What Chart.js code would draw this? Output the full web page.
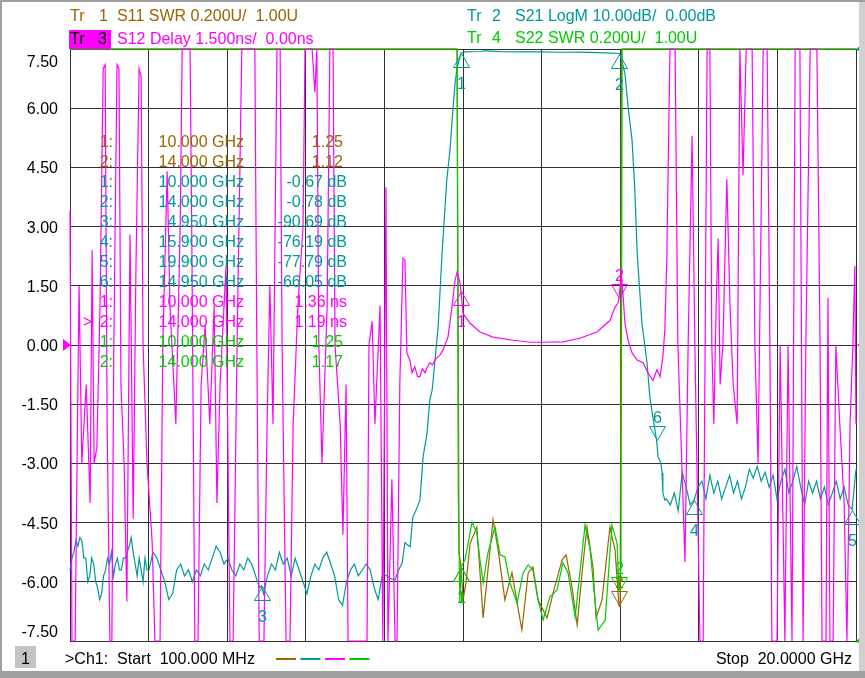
<!DOCTYPE html>
<html>
<head>
<meta charset="utf-8">
<script src="https://cdn.jsdelivr.net/npm/chart.js@4.4.0/dist/chart.umd.min.js"></script>
<style>
html, body { margin: 0; padding: 0; background: #fff; overflow: hidden; }
#wrap { width: 865px; height: 678px; position: relative; }
</style>
</head>
<body>
<div id="wrap"><canvas id="vna" width="865" height="678"></canvas></div>
<script>
// sweep and grid
var startGHz = 0.1, stopGHz = 20;
var xGrid = [0.1, 2.09, 4.08, 6.07, 8.06, 10.05, 12.04, 14.03, 16.02, 18.01, 20];
var yTicks = [7.5, 6, 4.5, 3, 1.5, 0, -1.5, -3, -4.5, -6, -7.5];
var yTickLabels = ['7.50', '6.00', '4.50', '3.00', '1.50', '0.00', '-1.50', '-3.00', '-4.50', '-6.00', '-7.50'];

// Tr 2  S21 LogM (dB)
var s21Freq = [0.1,0.15,0.2,0.25,0.3,0.35,0.4,0.45,0.5,0.55,0.6,0.65,0.7,0.75,0.8,0.85,0.9,0.95,1.0,1.05,
  1.1,1.15,1.2,1.25,1.3,1.35,1.4,1.45,1.5,1.55,1.6,1.65,1.7,1.75,1.8,1.85,1.9,1.95,2.0,2.05,
  2.1,2.2,2.3,2.4,2.5,2.6,2.7,2.8,2.9,3.0,3.1,3.2,3.3,3.4,3.5,3.6,3.7,3.8,3.9,4.0,
  4.1,4.2,4.3,4.4,4.5,4.6,4.7,4.8,4.9,4.95,5.0,5.1,5.2,5.3,5.4,5.5,5.6,5.7,5.8,5.9,6.0,
  6.1,6.2,6.3,6.4,6.5,6.6,6.7,6.8,6.9,7.0,7.1,7.2,7.3,7.4,7.5,7.6,7.7,7.8,7.9,8.02,
  8.2,8.33,8.4,8.51,8.58,8.71,8.78,8.83,8.96,9.04,9.14,9.21,9.27,9.42,9.52,9.64,9.72,9.8,9.85,9.9,9.97,
  10.0,10.1,10.5,10.6,11.0,11.5,12.0,12.5,13.0,13.5,13.8,13.95,14.0,
  14.03,14.15,14.23,14.33,14.4,14.46,14.58,14.71,14.78,14.83,14.95,14.99,15.06,15.09,15.11,15.16,
  15.2,15.3,15.4,15.5,15.6,15.7,15.8,15.9,16.0,16.1,16.2,16.3,16.4,16.5,16.6,16.7,16.8,16.9,17.0,
  17.1,17.2,17.3,17.4,17.5,17.6,17.7,17.8,17.9,18.0,18.1,18.2,18.3,18.4,18.5,18.6,18.7,18.8,18.9,19.0,
  19.1,19.2,19.3,19.4,19.5,19.6,19.7,19.8,19.9,20.0];
var s21dB = [-88,-86,-85,-83,-84,-82.5,-83,-86,-86,-90,-89,-86,-87,-90,-91,-93,-92,-89,-88,-86,
  -87,-85,-89,-87,-86,-88,-88,-86,-86,-85,-84,-82.5,-85,-87,-89,-86,-88,-90,-86,-88,
  -88,-85,-86,-88,-90,-93,-92,-88,-87,-89,-88,-90,-88,-89,-87,-88,-86,-84,-85,-87,
  -86,-88,-89,-87,-88,-86,-87,-89,-91,-90.69,-92,-89,-87,-88,-85,-87,-86,-89,-86,-88,-90,
  -92,-89,-87,-88,-86,-85,-87,-89,-93,-94,-90,-88,-87,-89,-88,-87,-88,-91,-93,-88.5,
  -89.4,-89.7,-88.3,-86.8,-83.4,-84.1,-79.1,-78.4,-76.2,-68.9,-64.9,-59.3,-57.6,-47,-34.5,-22.1,-17.1,-9.8,-5.7,-3.2,-1.4,
  -0.67,-0.5,-0.42,-0.3,-0.45,-0.5,-0.48,-0.55,-0.52,-0.6,-0.68,-0.72,-0.78,
  -1.0,-4.1,-9.8,-15.4,-23.8,-34.5,-46.3,-53,-58.8,-61,-66.05,-68.9,-69.9,-71.6,-75,-76.2,
  -76,-77,-75,-78,-71.5,-74,-77,-76.19,-74,-73,-76,-72,-75,-73,-76,-74,-72,-75,-73,
  -76,-74,-71,-72.5,-70.5,-73,-71.5,-74,-72,-76,-73,-71,-75,-73,-70.5,-74,-77,-73,-75,-73,
  -76,-74,-77,-75,-73,-76,-74,-77,-77.79,-71];

// Tr 3  S12 Delay (ns)
var s12Freq = [0.1,0.15,0.23,0.28,0.33,0.4,0.51,0.61,0.66,0.71,0.78,0.86,0.94,0.99,1.04,1.11,1.16,1.21,1.29,1.34,
  1.39,1.47,1.54,1.62,1.7,1.77,1.85,1.9,1.95,2.05,2.18,2.25,2.38,2.45,2.56,2.63,2.78,2.89,2.94,3.14,
  3.19,3.26,3.34,3.42,3.52,3.64,3.75,3.82,3.9,4.05,4.15,4.23,4.33,4.45,4.78,4.83,4.89,5.01,5.09,5.16,
  5.24,5.34,5.42,5.47,5.57,5.67,5.75,5.87,6.0,6.05,6.23,6.3,6.35,6.4,6.48,6.61,6.68,6.76,6.81,6.94,
  7.01,7.09,7.14,7.62,7.67,7.75,7.82,7.95,8.02,8.1,8.15,8.25,8.33,8.38,8.45,8.53,8.58,8.63,8.71,8.76,
  8.83,8.9,8.96,9.02,9.09,9.15,9.21,9.28,9.34,9.41,9.47,9.54,9.67,9.77,9.85,9.9,9.97,10.0,10.05,10.23,
  10.48,10.81,11.32,11.75,12.13,12.58,13.01,13.44,13.77,13.9,13.97,14.0,14.03,14.05,14.1,14.15,14.23,14.33,14.46,14.61,
  14.73,14.86,14.96,15.04,15.11,15.16,15.21,15.29,15.42,15.49,15.59,15.67,15.75,15.85,15.92,16.05,16.13,16.18,16.23,16.3,
  16.35,16.4,16.46,16.51,16.56,16.63,16.73,16.81,16.89,16.99,17.06,17.14,17.22,17.37,17.44,17.52,17.65,17.75,17.82,17.87,
  18.0,18.08,18.2,18.28,18.38,18.46,18.58,18.66,18.73,18.84,19.01,19.09,19.14,19.24,19.29,19.34,19.42,19.49,19.59,19.7,
  19.77,19.85,19.92,19.97,20.0];
var s12ns = [3.4,-9,-9,-2.8,1.5,-3,-1,-4,2.4,-3,-2.6,1,7.0,7.1,-2,-9,-9,0,7.1,7.0,
  -1,-3,-6.5,2.8,-4.4,2,7.0,6.8,0,-3,-5,-9,-9,0,4.4,1,-2,3,9,9,
  2,-9,-9,-1,0.5,-2,1,-4,-1,2,-9,-9,0,9,9,0,-9,-9,-2,1.5,
  -2,9,9,0,-9,-9,-2,1,3,9,9,6.4,9,0,-3,1,9,9,0,-2,
  -4.8,-1,-9,-9,0,0.6,-2,1,-9,4.0,-9,-3.4,-9,-9,-1,2.2,2.15,-0.2,-0.4,-0.7,
  -0.55,-0.8,-0.8,-0.6,-0.7,-0.55,-0.45,-0.5,-0.38,-0.3,-0.25,-0.13,0.2,0.96,1.65,1.85,1.6,1.36,0.8,0.55,
  0.33,0.2,0.12,0.07,0.07,0.08,0.17,0.33,0.62,0.96,1.05,1.19,1.5,1.82,1.3,0.55,0.12,-0.2,-0.38,-0.45,
  -0.7,-0.9,-0.63,-0.8,-0.3,0.38,2.2,9,9,0,-3,-5.5,0,5.3,0,-9,-9,0,9,9,
  0,-2,1,2.7,-1,0,4.2,1,-1,-2,9,4.3,9,9,0,-3,9,9,0,-9,
  -9,0,-9,0,-9,9,9,-9,0,9,9,0,-9,-9,1.2,-9,-9,0,-2,-4,
  -9,-2,0,2,-2];

// Tr 1  S11 SWR
var s11Freq = [0.1,9.9,9.95,10.0,10.05,10.13,10.23,10.4,10.56,10.81,10.94,11.11,11.29,11.54,11.7,11.82,11.95,
  12.18,12.33,12.56,12.66,12.81,12.94,13.09,13.19,13.34,13.42,13.57,13.77,13.9,14.0,14.03,14.06,20];
var s11Swr = [3.2,3.2,1.3,1.25,1.139,1.2,1.33,1.385,1.078,1.41,1.307,1.139,1.23,1.037,1.23,1.25,1.139,
  1.078,1.162,1.274,1.291,1.182,1.054,1.264,1.385,1.25,1.078,1.139,1.385,1.307,1.12,1.115,3.2,3.2];

// Tr 4  S22 SWR
var s22Freq = [0.1,9.9,9.93,9.97,10.0,10.1,10.28,10.4,10.48,10.56,10.68,10.86,10.99,11.11,11.24,11.42,11.57,
  11.7,11.82,11.95,12.08,12.25,12.43,12.58,12.71,12.89,13.01,13.14,13.27,13.39,13.47,13.65,13.82,13.95,
  14.0,14.05,14.08,20];
var s22Swr = [3.2,3.2,1.5,1.128,1.25,1.274,1.402,1.365,1.274,1.196,1.297,1.385,1.291,1.284,1.196,1.128,1.23,
  1.257,1.24,1.139,1.071,1.149,1.172,1.264,1.23,1.081,1.23,1.392,1.307,1.139,1.037,1.071,1.392,1.331,
  1.17,1.25,3.2,3.2];

// markers
var s11MarkerFreq = [10, 14], s11MarkerVal = [1.25, 1.12], s11MarkerDown = [false, true];
var s21MarkerFreq = [10, 14, 4.95, 15.9, 19.9, 14.95];
var s21MarkerVal = [-0.67, -0.78, -90.69, -76.19, -77.79, -66.05];
var s21MarkerDown = [false, false, false, false, false, true];
var s12MarkerFreq = [10, 14], s12MarkerVal = [1.36, 1.19], s12MarkerDown = [false, true];
var s22MarkerFreq = [10, 14], s22MarkerVal = [1.25, 1.17], s22MarkerDown = [false, true];

var brown = '#996600', teal = '#009999', magenta = '#ff00ff', green = '#00cc00';
var font = '16px "Liberation Sans", Arial, sans-serif';

// every trace is put on the Tr 3 grid (1.5 per division, 0 at centre)
function dbToGrid(v){ return (v / 10 + 5) * 1.5; }
function swrToGrid(v){ return ((v - 1.0) / 0.2 - 5) * 1.5; }
function nsToGrid(v){ return v; }
function clip(g){ return Math.max(-7.5, Math.min(7.5, g)); }

function points(freqs, vals, conv){
  return freqs.map(function(f, i){ return {x: f, y: clip(conv(vals[i]))}; });
}

function drawMarkers(chart, freqs, vals, downs, conv, color){
  var ctx = chart.ctx, xs = chart.scales.x, ys = chart.scales.y;
  ctx.save();
  ctx.strokeStyle = color;
  ctx.fillStyle = color;
  ctx.lineWidth = 1;
  ctx.font = font;
  ctx.textAlign = 'center';
  for(var i in freqs){
    var px = Math.round(xs.getPixelForValue(freqs[i])) + 0.5;
    var py = Math.round(ys.getPixelForValue(clip(conv(vals[i])))) + 0.5;
    var d = downs[i] ? -1 : 1;
    ctx.beginPath();
    ctx.moveTo(px, py);
    ctx.lineTo(px - 8, py + 14 * d);
    ctx.lineTo(px + 8, py + 14 * d);
    ctx.closePath();
    ctx.stroke();
    var label = String(Number(i) + 1);
    ctx.fillText(label, px, downs[i] ? py - 18 : py + 35);
  }
  ctx.restore();
}

function tri(ctx, pts, color){
  ctx.fillStyle = color;
  ctx.beginPath();
  ctx.moveTo(pts[0], pts[1]);
  ctx.lineTo(pts[2], pts[3]);
  ctx.lineTo(pts[4], pts[5]);
  ctx.closePath();
  ctx.fill();
}

var vnaOverlay = {
  id: 'vnaOverlay',
  afterDatasetsDraw: function(chart){
    drawMarkers(chart, s11MarkerFreq, s11MarkerVal, s11MarkerDown, swrToGrid, brown);
    drawMarkers(chart, s22MarkerFreq, s22MarkerVal, s22MarkerDown, swrToGrid, green);
    drawMarkers(chart, s21MarkerFreq, s21MarkerVal, s21MarkerDown, dbToGrid, teal);
    drawMarkers(chart, s12MarkerFreq, s12MarkerVal, s12MarkerDown, nsToGrid, magenta);
  },
  afterDraw: function(chart){
    var ctx = chart.ctx, ys = chart.scales.y;
    ctx.save();
    ctx.font = font;
    ctx.textBaseline = 'alphabetic';

    // y labels
    ctx.fillStyle = '#000';
    ctx.textAlign = 'right';
    for(var i in yTicks){
      var y = ys.getPixelForValue(yTicks[i]);
      y = Math.max(60.5, Math.min(631, y));
      ctx.fillText(yTickLabels[i], 58, y + 6);
    }

    // trace headers
    ctx.textAlign = 'left';
    ctx.fillStyle = brown;
    ctx.fillText('Tr', 70, 21); ctx.fillText('1', 99, 21);
    ctx.fillText('S11 SWR 0.200U/  1.00U', 117, 21);
    ctx.fillStyle = magenta;
    ctx.fillRect(69, 30, 42, 19);
    ctx.fillStyle = '#000';
    ctx.fillText('Tr', 70, 44); ctx.fillText('3', 98, 44);
    ctx.fillStyle = magenta;
    ctx.fillText('S12 Delay 1.500ns/  0.00ns', 117, 44);
    ctx.fillStyle = teal;
    ctx.fillText('Tr', 467, 21); ctx.fillText('2', 492, 21);
    ctx.fillText('S21 LogM 10.00dB/  0.00dB', 515, 21);
    ctx.fillStyle = green;
    ctx.fillText('Tr', 467, 43); ctx.fillText('4', 492, 43);
    ctx.fillText('S22 SWR 0.200U/  1.00U', 515, 43);

    // marker table
    var rows = [];
    s11MarkerFreq.forEach(function(f, k){ rows.push([brown, k, f, s11MarkerVal[k].toFixed(2), 343]); });
    s21MarkerFreq.forEach(function(f, k){ rows.push([teal, k, f, s21MarkerVal[k].toFixed(2) + ' dB', 347]); });
    s12MarkerFreq.forEach(function(f, k){ rows.push([magenta, k, f, s12MarkerVal[k].toFixed(2) + ' ns', 347]); });
    s22MarkerFreq.forEach(function(f, k){ rows.push([green, k, f, s22MarkerVal[k].toFixed(2), 343]); });
    ctx.textAlign = 'right';
    rows.forEach(function(r, n){
      var by = 146.5 + 20 * n;
      ctx.fillStyle = r[0];
      ctx.fillText((r[1] + 1) + ':', 113, by);
      ctx.fillText(r[2].toFixed(3) + ' GHz', 244, by);
      ctx.fillText(r[3], r[4], by);
      if(n == 9){ ctx.fillText('>', 92, by); }
    });

    // reference position arrows
    tri(ctx, [63, 339, 63, 351, 71, 345], magenta);
    tri(ctx, [865, 339, 865, 351, 857, 345], magenta);
    tri(ctx, [865, 42, 865, 56, 856, 49], teal);
    tri(ctx, [865, 634, 865, 648, 856, 641], green);

    // channel bar
    ctx.fillStyle = '#c4c4c4';
    ctx.fillRect(15, 646, 21, 22);
    ctx.fillStyle = '#000';
    ctx.textAlign = 'center';
    ctx.fillText('1', 25.5, 664);
    ctx.textAlign = 'left';
    ctx.fillText('>Ch1:  Start  100.000 MHz', 65, 664);
    ctx.textAlign = 'right';
    ctx.fillText('Stop  20.0000 GHz', 852, 664);
    [brown, teal, magenta, green].forEach(function(c, k){
      ctx.fillStyle = c;
      ctx.fillRect(276 + 24.5 * k, 658, 20, 2);
    });

    // window frame
    ctx.fillStyle = '#a0a0a0';
    ctx.fillRect(0, 0, 865, 2);
    ctx.fillRect(0, 0, 2, 678);
    ctx.fillRect(0, 671, 865, 7);
    ctx.fillStyle = '#d0d0d0';
    ctx.fillRect(859, 2, 6, 669);
    ctx.restore();
  }
};

new Chart(document.getElementById('vna'), {
  type: 'line',
  data: {
    datasets: [
      {label: 'S12', data: points(s12Freq, s12ns, nsToGrid), borderColor: magenta},
      {label: 'S22', data: points(s22Freq, s22Swr, swrToGrid), borderColor: green},
      {label: 'S21', data: points(s21Freq, s21dB, dbToGrid), borderColor: teal},
      {label: 'S11', data: points(s11Freq, s11Swr, swrToGrid), borderColor: brown}
    ]
  },
  options: {
    responsive: false,
    animation: false,
    devicePixelRatio: 1,
    layout: {padding: {left: 70, top: 49, right: 9, bottom: 37}},
    elements: {point: {radius: 0}, line: {borderWidth: 1.2, tension: 0}},
    datasets: {line: {clip: false}},
    plugins: {legend: {display: false}, tooltip: {enabled: false}},
    scales: {
      x: {
        type: 'linear', min: startGHz, max: stopGHz,
        afterBuildTicks: function(s){ s.ticks = xGrid.map(function(v){ return {value: v}; }); },
        afterFit: function(s){ s.height = 0; },
        ticks: {display: false},
        grid: {color: '#303030', drawTicks: false},
        border: {color: '#303030'}
      },
      y: {
        min: -7.5, max: 7.5,
        afterBuildTicks: function(s){ s.ticks = yTicks.map(function(v){ return {value: v}; }); },
        afterFit: function(s){ s.width = 0; },
        ticks: {display: false},
        grid: {color: '#303030', drawTicks: false},
        border: {color: '#303030'}
      }
    }
  },
  plugins: [vnaOverlay]
});
</script>
</body>
</html>
